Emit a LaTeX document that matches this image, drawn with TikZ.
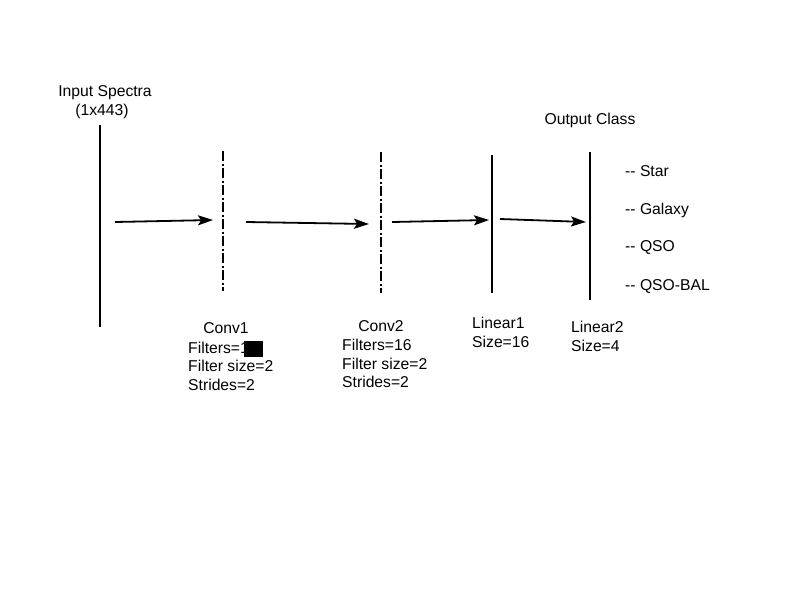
\documentclass[tikz,border=0pt]{standalone}
\usepackage{fontspec}
\setmainfont{Liberation Sans}
\usetikzlibrary{arrows.meta}
\begin{document}
\begin{tikzpicture}[x=1pt,y=-1pt,
  lbl/.style={inner sep=0pt,font=\fontsize{15.7}{18}\selectfont},
  layer/.style={line width=2.2pt},
  convlayer/.style={line width=2.2pt,dash pattern=on 10pt off 2.5pt on 2pt off 2.5pt},
  conn/.style={line width=1.8pt,-{Stealth[length=15pt,width=10pt,inset=3pt]}}]
\useasboundingbox (0,0) rectangle (800,600);
% layers
\draw[layer] (100,125) -- (100,327);
\draw[convlayer] (223,151) -- (223,291);
\draw[convlayer] (381,152) -- (381,293);
\draw[layer] (492,155) -- (492,293);
\draw[layer] (590,152) -- (590,300);
% arrow end points
\coordinate (a1s) at (115,222); \coordinate (a1e) at (213,220);
\coordinate (a2s) at (246,222); \coordinate (a2e) at (369,224);
\coordinate (a3s) at (392,222); \coordinate (a3e) at (489,220);
\coordinate (a4s) at (500,219); \coordinate (a4e) at (586,222);
\draw[conn] (a1s) -- (a1e);
\draw[conn] (a2s) -- (a2e);
\draw[conn] (a3s) -- (a3e);
\draw[conn] (a4s) -- (a4e);
% labels
\node[lbl,anchor=base] (in1) at (105,96) {Input Spectra};
\node[lbl,anchor=base] (in2) at (102,115) {(1x443)};
\node[lbl,anchor=base] (out) at (590,124) {Output Class};
\node[lbl,anchor=base west] (c1) at (625,176) {-{}- Star};
\node[lbl,anchor=base west] (c2) at (625,214) {-{}- Galaxy};
\node[lbl,anchor=base west] (c3) at (625,251) {-{}- QSO};
\node[lbl,anchor=base west] (c4) at (625,290) {-{}- QSO-BAL};
\node[lbl,anchor=base] (conv1) at (226,333) {Conv1};
\node[lbl,anchor=base west] (conv1a) at (188,353) {Filters=1};
\node[lbl,anchor=base west] (conv1b) at (188,371) {Filter size=2};
\node[lbl,anchor=base west] (conv1c) at (188,390) {Strides=2};
\fill[black] (244,341) rectangle (263,357);
\node[lbl,anchor=base] (conv2) at (381,331) {Conv2};
\node[lbl,anchor=base west] (conv2a) at (342,350) {Filters=16};
\node[lbl,anchor=base west] (conv2b) at (342,369) {Filter size=2};
\node[lbl,anchor=base west] (conv2c) at (342,387) {Strides=2};
\node[lbl,anchor=base west] (lin1) at (472,328) {Linear1};
\node[lbl,anchor=base west] (lin1a) at (472,347) {Size=16};
\node[lbl,anchor=base west] (lin2) at (571,332) {Linear2};
\node[lbl,anchor=base west] (lin2a) at (571,351) {Size=4};
\end{tikzpicture}
\end{document}
